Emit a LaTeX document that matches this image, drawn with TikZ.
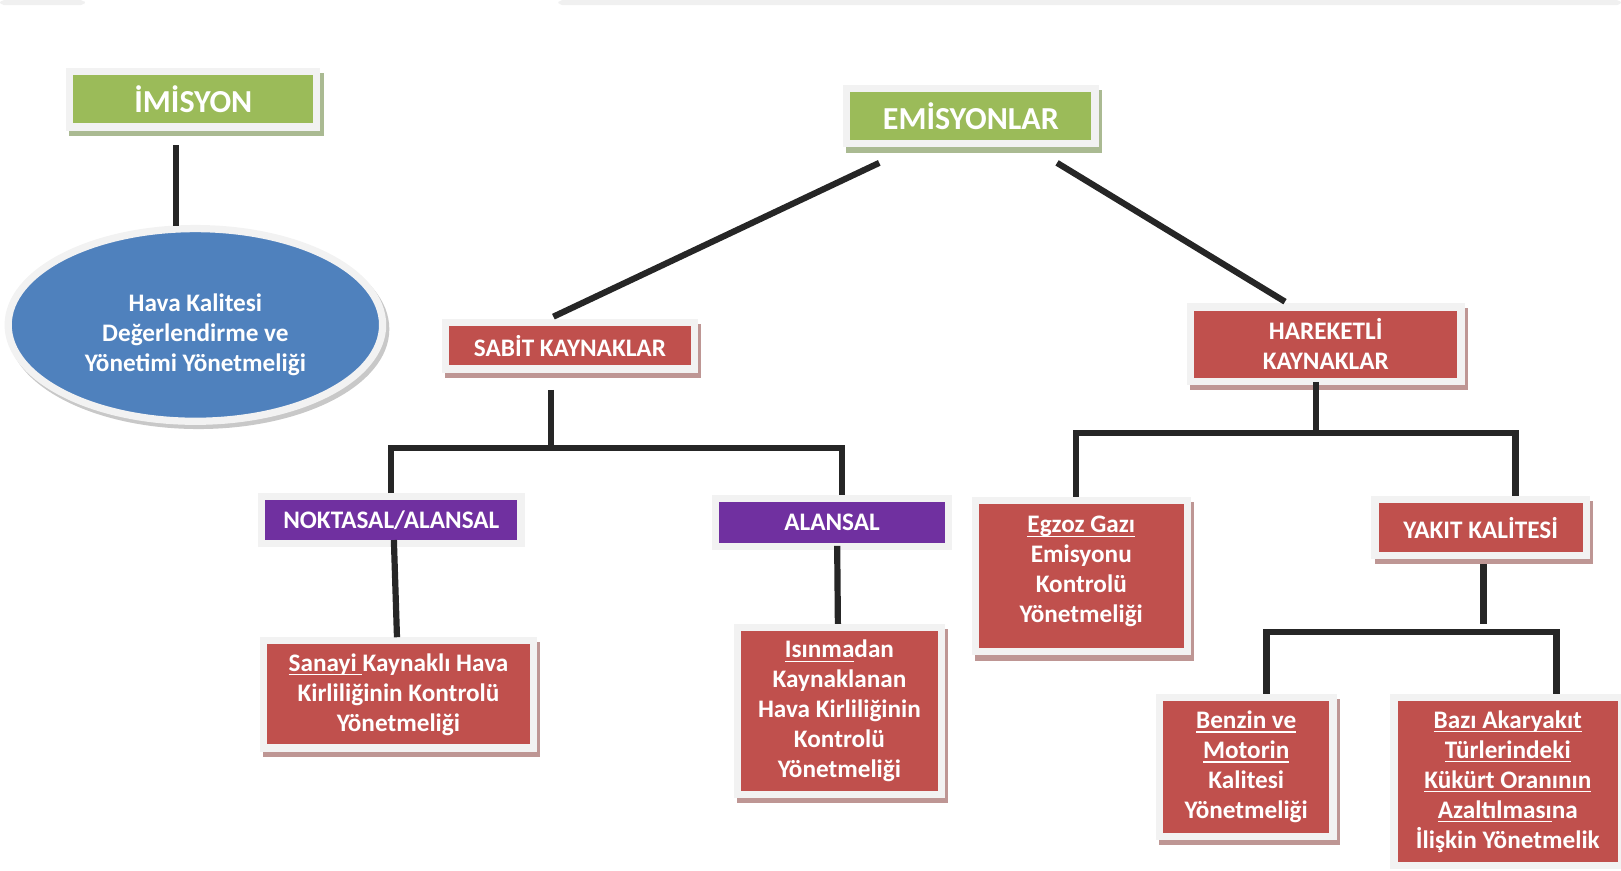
\documentclass[tikz,border=0pt]{standalone}
\usepackage{fontspec}
\setmainfont{Carlito}
\usetikzlibrary{calc,shapes.geometric,shadows}

\definecolor{kgreen}{RGB}{155,187,89}
\definecolor{kred}{RGB}{192,80,77}
\definecolor{kpurple}{RGB}{112,48,160}
\definecolor{kblue}{RGB}{79,129,189}
\definecolor{kframe}{RGB}{242,242,242}
\definecolor{kline}{RGB}{38,38,38}
\definecolor{kredshade}{RGB}{190,150,148}
\definecolor{kgreenshade}{RGB}{170,186,146}
\definecolor{kgrayshade}{RGB}{200,200,200}
\definecolor{kstrip}{RGB}{240,240,240}

\newcommand\boxfont{\fontsize{12.2pt}{14.5pt}\selectfont\bfseries}
\newcommand\titlefont{\fontsize{15.5pt}{18pt}\selectfont\bfseries}
\newcommand\ulink[1]{\setbox0\hbox{#1}\rlap{\rule[-2pt]{\wd0}{0.6pt}}\box0}

\tikzset{every picture/.style={line width=0.75pt}}
\tikzset{
  box/.style={rectangle, draw=kframe, line width=3.5pt, text=white, align=center, inner sep=0pt, font=\boxfont},
  redbox/.style={box, fill=kred, drop shadow={shadow xshift=1.5pt, shadow yshift=-2.5pt, fill=kredshade, draw=kredshade, opacity=1}},
  redflat/.style={box, fill=kred},
  greenbox/.style={box, fill=kgreen, font=\titlefont, drop shadow={shadow xshift=1.5pt, shadow yshift=-2.5pt, fill=kgreenshade, draw=kgreenshade, opacity=1}},
  purplebox/.style={box, fill=kpurple},
  blueoval/.style={ellipse, draw=kframe, line width=3.5pt, fill=kblue, text=white, align=center, inner sep=0pt, font=\boxfont, drop shadow={shadow xshift=1.5pt, shadow yshift=-2pt, fill=kgrayshade, draw=kgrayshade, opacity=1}},
  link/.style={draw=kline, line width=3pt}
}

\begin{document}
\begin{tikzpicture}[x=0.5pt,y=0.5pt,yscale=-1,xscale=1]
\useasboundingbox (0,0) rectangle (1568,842);

%Shape: Strip
\fill[kstrip, rounded corners=2pt] (0,0) rectangle (82,5);
\fill[kstrip, rounded corners=2pt] (540,0) rectangle (1568,5);

% Text Node
\node[greenbox, minimum width=119.5pt, minimum height=26.7pt] (imis) at (187,96.2) {İMİSYON};
% Text Node
\node[blueoval, minimum width=181.1pt, minimum height=93.2pt] (hava) at (189,314.3) {\rule{0pt}{18.5pt}Hava Kalitesi\\Değerlendirme ve\\Yönetimi Yönetmeliği};
% Text Node
\node[greenbox, minimum width=120.1pt, minimum height=26.65pt] (emis) at (939.1,112.4) {EMİSYONLAR};
% Text Node
\node[redbox, minimum width=120.25pt, minimum height=22.3pt] (sabit) at (551.3,334.6) {SABİT KAYNAKLAR};
% Text Node
\node[redbox, minimum width=130.85pt, minimum height=36pt] (hare) at (1282.4,332.9) {HAREKETLİ\\KAYNAKLAR};
% Text Node
\node[purplebox, minimum width=125.55pt, minimum height=22.65pt] (nokt) at (378.5,503.2) {NOKTASAL/ALANSAL};
% Text Node
\node[purplebox, minimum width=112.75pt, minimum height=23.15pt] (alan) at (804.8,505.4) {ALANSAL};
% Text Node
\node[redbox, minimum width=130.35pt, minimum height=51.8pt] (sanayi) at (385.4,671.7) {\ulink{Sanayi }Kaynaklı Hava\\Kirliliğinin Kontrolü\\Yönetmeliği};
% Text Node
\node[redbox, minimum width=98.5pt, minimum height=80.75pt] (isin) at (812,687.8) {\ulink{Isınma}dan\\Kaynaklanan\\Hava Kirliliğinin\\Kontrolü\\Yönetmeliği};
% Text Node
\node[redbox, minimum width=102.65pt, minimum height=73.35pt] (egz) at (1045.9,557.2) {\ulink{Egzoz Gazı}\\Emisyonu\\Kontrolü\\Yönetmeliği\rule[-6.5pt]{0pt}{6.5pt}};
% Text Node
\node[redbox, minimum width=102.1pt, minimum height=26.8pt] (yak) at (1432.2,510.3) {YAKIT KALİTESİ};
% Text Node
\node[redbox, minimum width=84pt, minimum height=67.25pt] (benz) at (1205.5,741.75) {\ulink{Benzin ve}\\\ulink{Motorin}\\Kalitesi\\Yönetmeliği};
% Text Node
\node[redflat, minimum width=110pt, minimum height=81.5pt] (bazi) at (1458.5,756) {\ulink{Bazı Akaryakıt}\\\ulink{Türlerindeki}\\\ulink{Kükürt Oranının}\\\ulink{Azaltılması}na\\İlişkin Yönetmelik};

%Straight Lines
\draw[link] ($(imis.south)+(-16.5,14)$) -- ($(hava.north)+(-18.5,1)$);
%Straight Lines
\draw[link] ($(emis.south)+(-88.6,15)$) -- ($(sabit.north)+(-16,-2.5)$);
\draw[link] ($(emis.south)+(83.4,15)$) -- ($(hare.north)+(-39.4,-1.6)$);

%Straight Lines
\coordinate (sabj) at ($(sabit.south)+(-18,73.2)$);
\draw[link] ($(sabit.south)+(-18,16.6)$) -- (sabj);
\draw[link] (nokt.north) |- (sabj) -| ($(alan.north)+(10,0)$);
\draw[link] ($(nokt.south)+(2.5,-7)$) -- ($(sanayi.north)+(-1.4,0)$);
\draw[link] ($(alan.south)+(5,-4)$) -- ($(isin.north)+(-1.5,0)$);

%Straight Lines
\coordinate (harj) at ($(hare.south)+(-9.1,46.6)$);
\draw[link] ($(hare.south)+(-9.1,-3)$) -- (harj);
\draw[link] ($(egz.north)+(-5,0)$) |- (harj) -| ($(yak.north)+(33.8,0)$);

%Straight Lines
\coordinate (yakj) at ($(yak.south)+(2.8,71)$);
\draw[link] ($(yak.south)+(2.8,5)$) -- ($(yakj)+(0,-8)$);
\draw[link] ($(benz.north)+(19.5,0)$) |- (yakj) -| ($(bazi.north)+(47,0)$);

\end{tikzpicture}
\end{document}
